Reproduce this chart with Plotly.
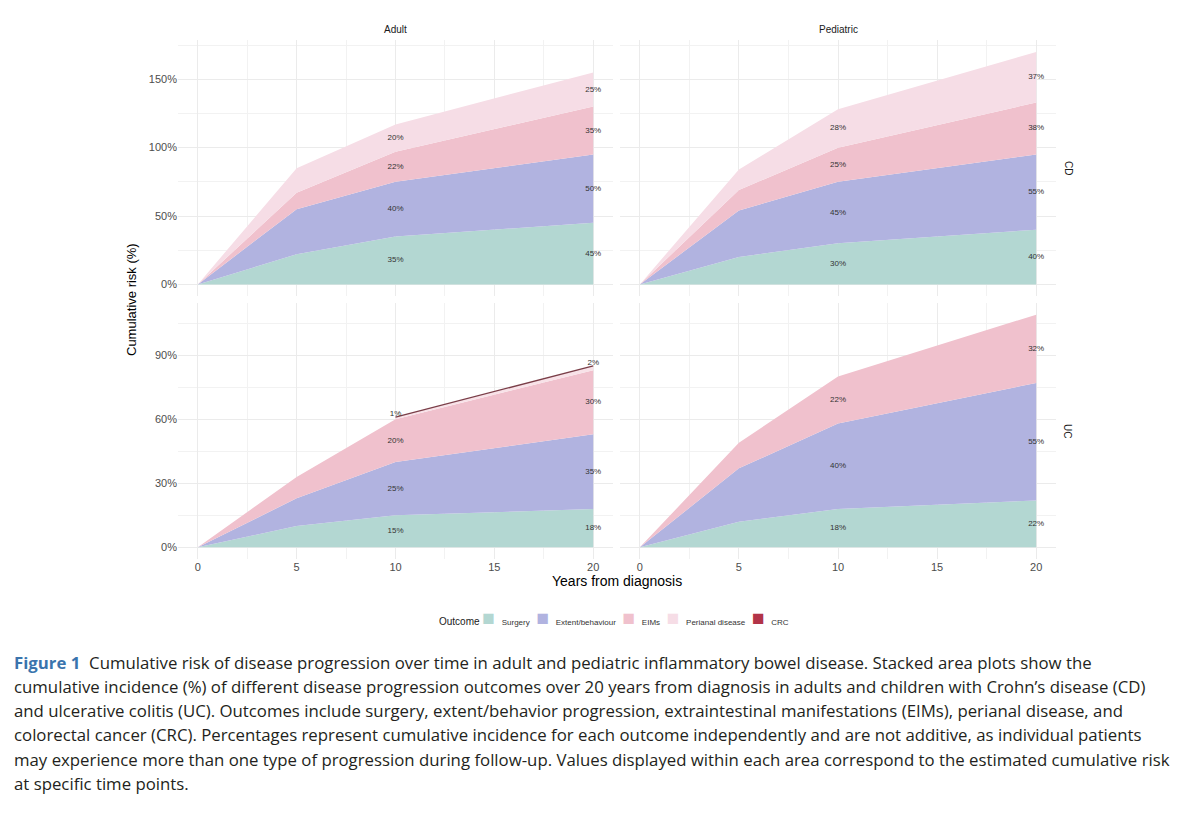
import numpy as np
import plotly.graph_objects as go
from plotly.subplots import make_subplots

years = [0, 5, 10, 20]
outcomes = ["Surgery", "Extent/behaviour", "EIMs", "Perianal disease", "CRC"]
colors = {
    "Surgery": "rgb(179,215,210)",
    "Extent/behaviour": "rgb(177,179,224)",
    "EIMs": "rgb(240,193,205)",
    "Perianal disease": "rgb(246,221,230)",
    "CRC": "rgb(178,52,72)",
}

# Adult CD
adult_cd_surgery = [0, 22, 35, 45]
adult_cd_extent = [0, 33, 40, 50]
adult_cd_eims = [0, 12, 22, 35]
adult_cd_perianal = [0, 18, 20, 25]
# Pediatric CD
ped_cd_surgery = [0, 20, 30, 40]
ped_cd_extent = [0, 34, 45, 55]
ped_cd_eims = [0, 15, 25, 38]
ped_cd_perianal = [0, 15, 28, 37]
# Adult UC
adult_uc_surgery = [0, 10, 15, 18]
adult_uc_extent = [0, 13, 25, 35]
adult_uc_eims = [0, 10, 20, 30]
crc_years = [10, 20]
adult_uc_crc = [1, 2]
# Pediatric UC
ped_uc_surgery = [0, 12, 18, 22]
ped_uc_extent = [0, 25, 40, 55]
ped_uc_eims = [0, 12, 22, 32]

label_years = [10, 20]

panels = [
    (1, 1, {"Surgery": adult_cd_surgery, "Extent/behaviour": adult_cd_extent,
            "EIMs": adult_cd_eims, "Perianal disease": adult_cd_perianal}),
    (1, 2, {"Surgery": ped_cd_surgery, "Extent/behaviour": ped_cd_extent,
            "EIMs": ped_cd_eims, "Perianal disease": ped_cd_perianal}),
    (2, 1, {"Surgery": adult_uc_surgery, "Extent/behaviour": adult_uc_extent,
            "EIMs": adult_uc_eims}),
    (2, 2, {"Surgery": ped_uc_surgery, "Extent/behaviour": ped_uc_extent,
            "EIMs": ped_uc_eims}),
]

FONT = "Liberation Sans, Arial, sans-serif"
LABEL_FONT = dict(size=8, color="#333333", family=FONT)

# page has an 8px body margin, so figure is 16px smaller than the window
W, H = 1163, 808
OFF = 8


def px(x):
    return (x - OFF) / W


def py(y):
    return 1 - (y - OFF) / H


fig = make_subplots(rows=2, cols=2)

for row, col, series in panels:
    base = np.zeros(len(years))
    labels_x, labels_y, labels_t = [], [], []
    for name, vals in series.items():
        vals = np.array(vals, dtype=float)
        top = base + vals
        fig.add_trace(go.Scatter(
            x=years, y=top, mode="lines", line=dict(width=0),
            fill="tozeroy" if name == "Surgery" else "tonexty",
            fillcolor=colors[name], name=name, showlegend=False, hoverinfo="skip"),
            row=row, col=col)
        for yr in label_years:
            i = years.index(yr)
            labels_x.append(yr)
            labels_y.append(base[i] + vals[i] / 2)
            labels_t.append(f"{int(vals[i])}%")
        base = top
    if row == 2 and col == 1:
        # thin CRC band stacked on top of EIMs
        eims_top = [base[years.index(y)] for y in crc_years]
        crc_top = [b + c for b, c in zip(eims_top, adult_uc_crc)]
        fig.add_trace(go.Scatter(
            x=crc_years + crc_years[::-1], y=crc_top + eims_top[::-1],
            mode="lines", line=dict(width=0), fill="toself",
            fillcolor="rgb(248,226,232)", showlegend=False, hoverinfo="skip"),
            row=row, col=col)
        fig.add_trace(go.Scatter(
            x=crc_years, y=crc_top, mode="lines", name="CRC",
            line=dict(width=1.3, color="rgb(122,62,72)"),
            showlegend=False, hoverinfo="skip"),
            row=row, col=col)
        labels_x += crc_years
        labels_y += [t + 1.5 for t in crc_top]
        labels_t += [f"{v}%" for v in adult_uc_crc]
    fig.add_trace(go.Scatter(
        x=labels_x, y=labels_y, mode="text", text=labels_t, textfont=LABEL_FONT,
        showlegend=False, hoverinfo="skip"),
        row=row, col=col)

xdom = [(px(178), px(613)), (px(620), px(1056))]
ydom = [(py(296), py(40.3)), (py(559), py(303))]

grid = "#ebebeb"
for row in (1, 2):
    for col in (1, 2):
        fig.update_xaxes(
            domain=xdom[col - 1], range=[-1, 21], dtick=5, tick0=0,
            showgrid=True, gridcolor=grid, gridwidth=1, zeroline=False,
            showline=False, ticks="", showticklabels=(row == 2),
            tickfont=dict(size=11, color="#4d4d4d", family=FONT),
            minor=dict(dtick=2.5, tick0=0, showgrid=True, gridcolor="#f2f2f2", gridwidth=1),
            row=row, col=col)
        if row == 1:
            yr = dict(range=[-8.5, 178.5], dtick=50)
            ymin = 25
        else:
            yr = dict(range=[-5.45, 114.45], dtick=30)
            ymin = 15
        fig.update_yaxes(
            domain=ydom[row - 1], **yr, tick0=0, ticksuffix="%",
            showgrid=True, gridcolor=grid, gridwidth=1, zeroline=False,
            showline=False, ticks="", showticklabels=(col == 1),
            tickfont=dict(size=11, color="#4d4d4d", family=FONT),
            minor=dict(dtick=ymin, tick0=0, showgrid=True, gridcolor="#f2f2f2", gridwidth=1),
            row=row, col=col)

# legend row built as one line of text with coloured square keys
legend_text = "<span style='font-size:10px;color:#1a1a1a'>Outcome</span>&nbsp;"
for name in outcomes:
    legend_text += (f"<span style='font-size:21px;color:{colors[name]}'>■</span>"
                    f"<span style='font-size:8px;color:#333333'>&nbsp;&nbsp;&nbsp;{name}&nbsp;&nbsp;&nbsp;</span>")

annotations = [
    dict(x=px(395.5), y=py(29), text="Adult", font=dict(size=10, color="#1a1a1a")),
    dict(x=px(838), y=py(29), text="Pediatric", font=dict(size=10, color="#1a1a1a")),
    dict(x=px(1068), y=py(168), text="CD", textangle=90, font=dict(size=10, color="#1a1a1a")),
    dict(x=px(1068), y=py(431), text="UC", textangle=90, font=dict(size=10, color="#1a1a1a")),
    dict(x=px(131), y=py(300), text="Cumulative risk (%)", textangle=-90,
         font=dict(size=13, color="#000000")),
    dict(x=px(617), y=py(581), text="Years from diagnosis", font=dict(size=14, color="#000000")),
    dict(x=px(617), y=py(617), text=legend_text, font=dict(size=10, color="#1a1a1a")),
]
for a in annotations:
    a.update(xref="paper", yref="paper", showarrow=False, xanchor="center", yanchor="middle")
    a["font"]["family"] = FONT

caption = [
    "<span style='color:#3a74ad'><b>Figure 1</b></span>  Cumulative risk of disease progression over time in adult and pediatric inflammatory bowel disease. Stacked area plots show the",
    "cumulative incidence (%) of different disease progression outcomes over 20 years from diagnosis in adults and children with Crohn’s disease (CD)",
    "and ulcerative colitis (UC). Outcomes include surgery, extent/behavior progression, extraintestinal manifestations (EIMs), perianal disease, and",
    "colorectal cancer (CRC). Percentages represent cumulative incidence for each outcome independently and are not additive, as individual patients",
    "may experience more than one type of progression during follow-up. Values displayed within each area correspond to the estimated cumulative risk",
    "at specific time points.",
]
cap_y = [662, 686, 710, 734, 759, 783]
for line, yy in zip(caption, cap_y):
    annotations.append(dict(
        x=px(12), y=py(yy), xref="paper", yref="paper", text=line, showarrow=False,
        xanchor="left", yanchor="middle",
        font=dict(size=16.8, color="#231f20", family="Open Sans, sans-serif")))

fig.update_layout(
    width=W, height=H, margin=dict(l=0, r=0, t=0, b=0),
    plot_bgcolor="white", paper_bgcolor="white",
    font=dict(family=FONT),
    annotations=annotations,
    showlegend=False,
)

fig.write_html("out.html")
